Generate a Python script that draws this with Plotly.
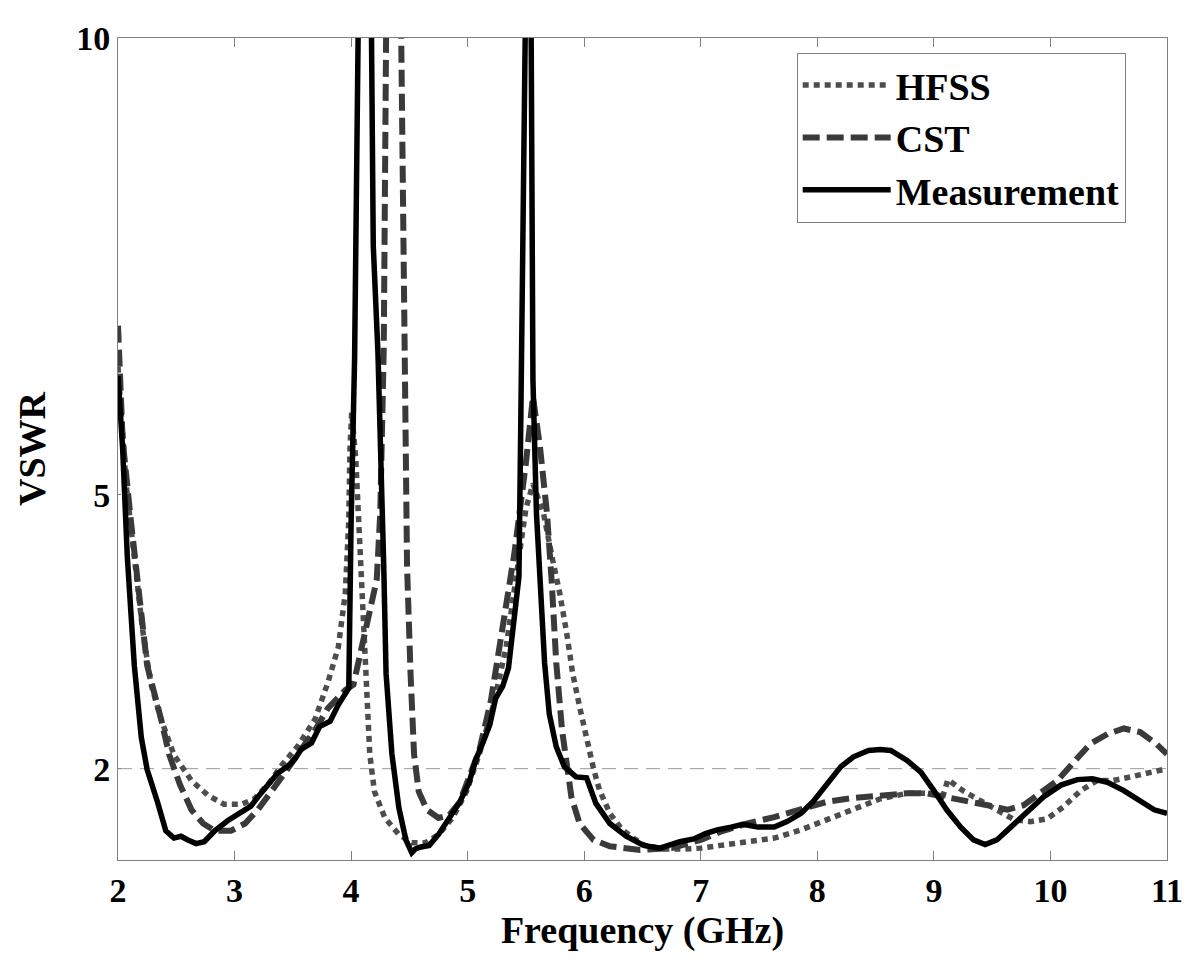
import plotly.graph_objects as go

# ---------------- data ----------------
meas_x = [2.0, 2.04, 2.08, 2.14, 2.2, 2.25, 2.34, 2.41, 2.48, 2.54, 2.6, 2.67, 2.74, 2.83, 2.94,
          3.06, 3.14, 3.2, 3.29, 3.37, 3.46, 3.52, 3.57, 3.66, 3.73, 3.82, 3.89, 3.95, 3.98,
          4.0, 4.03, 4.06, 4.11, 4.175, 4.19, 4.23, 4.26, 4.28, 4.3, 4.35, 4.41, 4.47, 4.52,
          4.55, 4.59, 4.67, 4.75, 4.84, 4.93, 5.01, 5.07, 5.13, 5.19, 5.24, 5.3, 5.35, 5.39,
          5.42, 5.44, 5.46, 5.49, 5.52, 5.545, 5.56, 5.59, 5.62, 5.66, 5.7, 5.76, 5.83, 5.93,
          6.02, 6.1, 6.22, 6.36, 6.51, 6.65, 6.82, 6.94, 7.04, 7.14,
          7.26, 7.36, 7.49, 7.63, 7.74, 7.86, 7.97, 8.09, 8.2, 8.31, 8.44, 8.54, 8.63, 8.77,
          8.89, 9.0, 9.11, 9.23, 9.34, 9.44, 9.54, 9.66, 9.8, 9.94, 10.09, 10.23, 10.36, 10.49,
          10.63, 10.77, 10.89, 11.0]
meas_y = [6.3, 5.5, 4.32, 3.13, 2.34, 1.99, 1.63, 1.32, 1.24, 1.26, 1.22, 1.18, 1.2, 1.32, 1.43,
          1.53, 1.59, 1.69, 1.83, 1.95, 2.03, 2.11, 2.21, 2.28, 2.46, 2.52, 2.7, 2.82, 2.88,
          4.7, 6.5, 10.0, 14.0, 10.0, 7.73, 6.56, 5.39, 4.21, 3.04, 2.16, 1.57, 1.22, 1.08,
          1.12, 1.14, 1.16, 1.28, 1.46, 1.63, 1.84, 2.1, 2.28, 2.48, 2.77, 2.9, 3.1, 3.6,
          3.85, 4.1, 6.26, 10.0, 13.0, 10.0, 6.26, 4.8, 4.07, 3.16, 2.6, 2.24, 2.02, 1.91,
          1.9, 1.62, 1.4, 1.26, 1.16, 1.13, 1.2, 1.23, 1.29, 1.33,
          1.36, 1.39, 1.36, 1.36, 1.42, 1.51, 1.65, 1.84, 2.02, 2.13, 2.2, 2.21, 2.2, 2.09,
          1.96, 1.76, 1.55, 1.36, 1.22, 1.17, 1.22, 1.36, 1.53, 1.69, 1.82, 1.88, 1.89, 1.85,
          1.76, 1.64, 1.55, 1.51]

cst_x = [2.0, 2.04, 2.11, 2.18, 2.25, 2.37, 2.44, 2.53, 2.63, 2.73, 2.83, 2.97, 3.09, 3.2,
         3.32, 3.43, 3.56, 3.69, 3.8, 3.95, 4.02, 4.1, 4.16, 4.22, 4.25, 4.28, 4.3, 4.365,
         4.43, 4.45, 4.46, 4.48, 4.51, 4.54, 4.58, 4.65, 4.75, 4.84, 4.93, 5.01, 5.1, 5.2,
         5.3, 5.4, 5.5, 5.56, 5.62, 5.68, 5.72, 5.76, 5.81, 5.85, 5.89, 5.96, 6.08, 6.22,
         6.48, 6.75, 6.92, 7.0, 7.17, 7.4, 7.63, 7.86, 8.09, 8.31, 8.54, 8.77, 8.94,
         9.11, 9.29, 9.46, 9.63, 9.77, 9.91, 10.06, 10.2, 10.34, 10.49, 10.63, 10.77, 10.91, 11.0]
cst_y = [6.85, 5.6, 4.72, 3.92, 3.13, 2.54, 2.15, 1.83, 1.55, 1.4, 1.32, 1.32, 1.4, 1.55,
         1.75, 1.95, 2.19, 2.42, 2.66, 2.86, 2.92, 3.41, 3.75, 4.07, 4.8, 6.6, 10.0, 15.0,
         10.0, 7.73, 5.97, 4.21, 3.04, 2.16, 1.75, 1.55, 1.46, 1.49, 1.63, 1.9, 2.2, 2.75,
         3.55, 4.35, 5.35, 6.07, 5.53, 4.8, 4.07, 3.16, 2.42, 2.0, 1.69, 1.4, 1.22, 1.15,
         1.11, 1.13, 1.18, 1.22, 1.31, 1.4, 1.47, 1.56, 1.64, 1.68, 1.71, 1.73, 1.73,
         1.69, 1.65, 1.6, 1.55, 1.6, 1.73, 1.87, 2.07, 2.27, 2.38, 2.44, 2.4, 2.27, 2.16]

hfss_x = [2.0, 2.03, 2.07, 2.14, 2.21, 2.28, 2.37, 2.48, 2.63, 2.77, 2.91, 3.06, 3.17, 3.29,
          3.4, 3.55, 3.69, 3.8, 3.89, 3.95, 3.98, 3.99, 4.005, 4.04, 4.07, 4.1, 4.13, 4.16,
          4.2, 4.29, 4.41, 4.52, 4.64, 4.75, 4.87, 4.99, 5.1, 5.22, 5.33, 5.43, 5.5, 5.56,
          5.65, 5.73, 5.79, 5.85, 5.9, 5.96, 6.02, 6.08, 6.13, 6.22, 6.32,
          6.42, 6.52, 6.69, 6.86, 7.0, 7.17, 7.4, 7.63, 7.86, 8.09, 8.31, 8.54, 8.77, 8.94,
          9.08, 9.12, 9.26, 9.4, 9.54, 9.69, 9.83, 9.97, 10.11, 10.26, 10.4, 10.54, 10.69,
          10.83, 11.0]
hfss_y = [6.4, 5.8, 5.11, 4.32, 3.53, 2.94, 2.54, 2.15, 1.87, 1.71, 1.61, 1.61, 1.67, 1.83,
          2.03, 2.26, 2.54, 2.94, 3.33, 3.92, 4.72, 5.5, 5.9, 5.39, 4.5, 3.63, 2.75, 2.16,
          1.75, 1.46, 1.28, 1.19, 1.19, 1.28, 1.46, 1.75, 2.16, 2.69, 3.33, 4.2, 4.85, 5.12,
          4.8, 4.28, 3.92, 3.48, 3.05, 2.68, 2.31, 2.0, 1.77, 1.51, 1.34,
          1.24, 1.16, 1.12, 1.12, 1.13, 1.16, 1.2, 1.24, 1.33, 1.44, 1.56, 1.67, 1.73, 1.73,
          1.71, 1.88, 1.75, 1.65, 1.55, 1.44, 1.42, 1.45, 1.58, 1.76, 1.87, 1.87, 1.91,
          1.95, 2.0]

x_ticks = [2, 3, 4, 5, 6, 7, 8, 9, 10, 11]
y_ticks = [2, 5, 10]
ref_level = 2

FONT = "Liberation Serif, Times New Roman, serif"

fig = go.Figure()
fig.add_trace(go.Scatter(x=hfss_x, y=hfss_y, mode="lines", name="HFSS",
                         line=dict(color="#4d4d4d", width=5.5, dash="6px,5px")))
fig.add_trace(go.Scatter(x=cst_x, y=cst_y, mode="lines", name="CST",
                         line=dict(color="#3a3a3a", width=6, dash="17px,7px")))
fig.add_trace(go.Scatter(x=meas_x, y=meas_y, mode="lines", name="Measurement",
                         line=dict(color="#000000", width=5.5)))

fig.add_hline(y=ref_level, line=dict(color="#999999", width=1, dash="14px,8px"), layer="below")

fig.update_layout(
    width=1200, height=961,
    margin=dict(l=110, r=41, t=30, b=109),
    paper_bgcolor="white", plot_bgcolor="white",
    font=dict(family=FONT, size=34, color="black", weight="bold"),
    showlegend=True,
    legend=dict(x=0.647, y=0.982, xanchor="left", yanchor="top",
                bgcolor="white", bordercolor="#808080", borderwidth=1,
                font=dict(family=FONT, size=38, color="black", weight="bold"),
                itemwidth=88, tracegroupgap=0),
    xaxis=dict(range=[2, 11], tickvals=x_ticks, ticks="inside", ticklen=9,
               tickcolor="#808080", showline=True, linecolor="#808080", linewidth=1,
               mirror="ticks", showgrid=False, zeroline=False,
               title=dict(text="Frequency (GHz)", font=dict(size=38, family=FONT, weight="bold"),
                          standoff=8)),
    yaxis=dict(range=[1, 10], tickvals=y_ticks, ticks="inside", ticklen=3,
               tickcolor="#808080", showline=True, linecolor="#808080", linewidth=1,
               mirror=True, showgrid=False, zeroline=False,
               title=dict(text="VSWR", font=dict(size=38, family=FONT, weight="bold"),
                          standoff=18)),
)

fig.write_html("out.html")
